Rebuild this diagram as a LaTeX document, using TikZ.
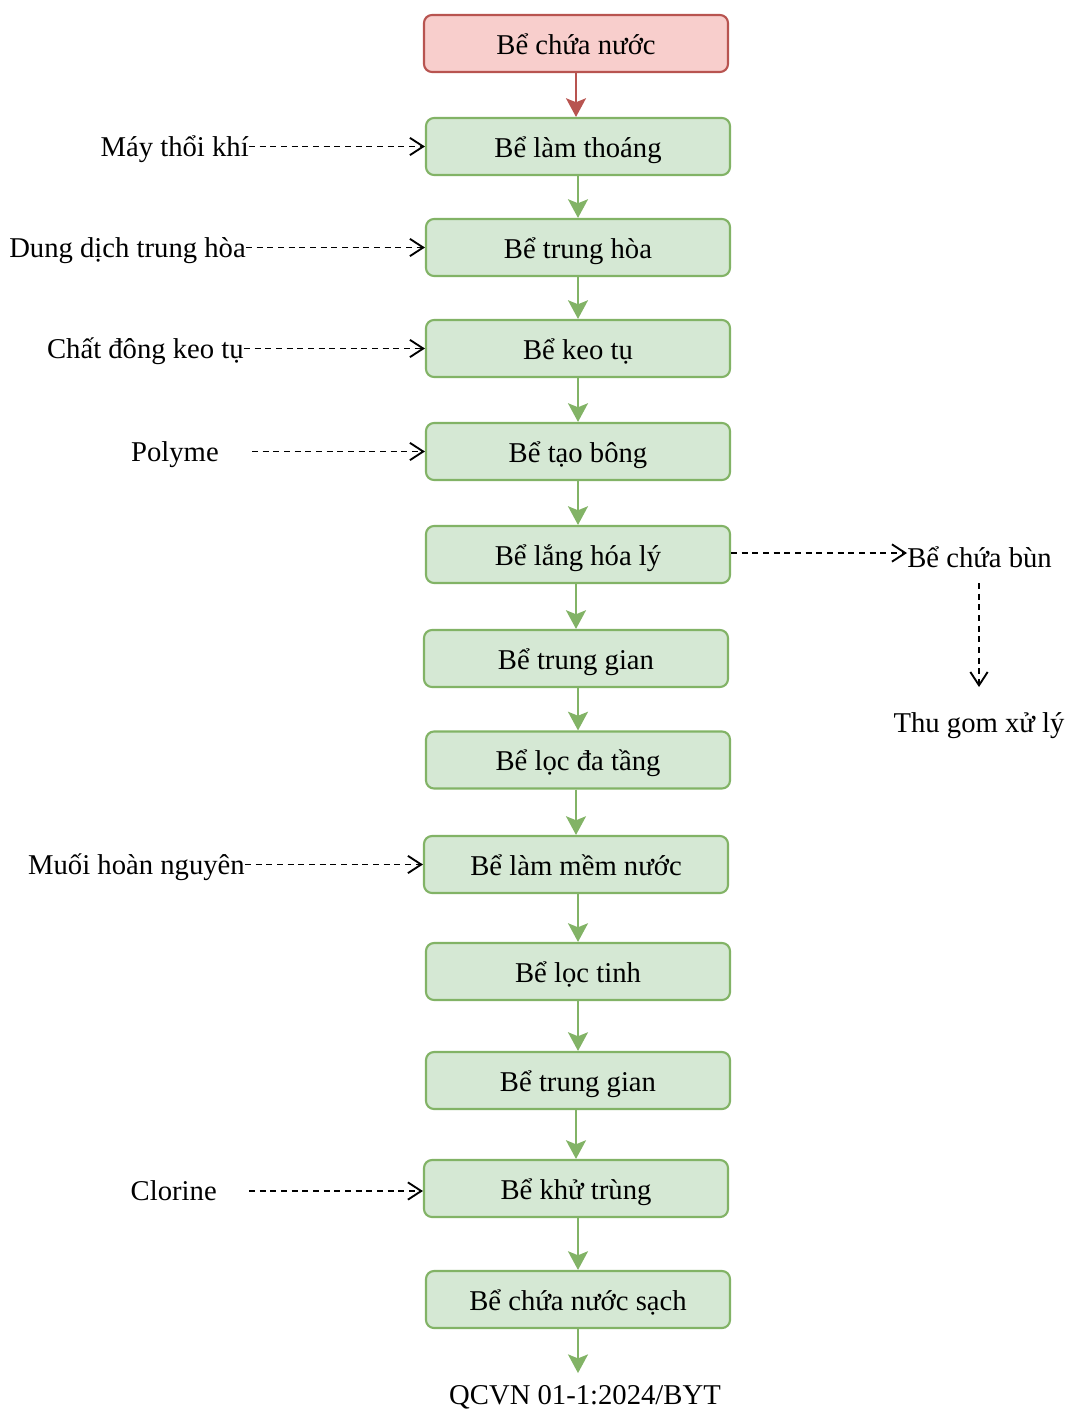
\documentclass[tikz,border=0pt]{standalone}
\usepackage{fontspec}
\setmainfont{Liberation Serif}
\usetikzlibrary{arrows.meta,calc}
\definecolor{gfill}{HTML}{D5E8D4}
\definecolor{gdraw}{HTML}{82B366}
\definecolor{rfill}{HTML}{F8CECC}
\definecolor{rdraw}{HTML}{B85450}
\begin{document}
\begin{tikzpicture}[x=0.75pt,y=-0.75pt,
  box/.style={draw=gdraw,fill=gfill,line width=1.6pt,rounded corners=6pt,
    minimum width=228pt,minimum height=42.75pt,inner sep=0pt,
    font=\fontsize{21.5}{24}\selectfont,text height=16pt,text depth=0pt},
  redbox/.style={box,draw=rdraw,fill=rfill},
  lab/.style={inner sep=0pt,font=\fontsize{21.5}{24}\selectfont,text height=14.5pt,text depth=0pt},
  plain/.style={inner sep=0pt,font=\fontsize{21.5}{24}\selectfont},
  garrow/.style={draw=gdraw,fill=gdraw,line width=1.5pt,-{Stealth[length=14pt,width=15pt,inset=3pt]}},
  rarrow/.style={garrow,draw=rdraw,fill=rdraw},
  dasharrow/.style={draw=black,line width=1.4pt,dash pattern=on 4.5pt off 3.5pt,
    -{Straight Barb[length=10pt,width=13pt]}}
]
\useasboundingbox (0,0) rectangle (1067,1416);

\node[redbox] (b1) at (576,43.5) {Bể chứa nước};
\node[box] (b2) at (578,146.5) {Bể làm thoáng};
\node[box] (b3) at (578,247.5) {Bể trung hòa};
\node[box] (b4) at (578,348.5) {Bể keo tụ};
\node[box] (b5) at (578,451.5) {Bể tạo bông};
\node[box] (b6) at (578,554.5) {Bể lắng hóa lý};
\node[box] (b7) at (576,658.5) {Bể trung gian};
\node[box] (b8) at (578,760) {Bể lọc đa tầng};
\node[box] (b9) at (576,864.5) {Bể làm mềm nước};
\node[box] (b10) at (578,971.5) {Bể lọc tinh};
\node[box] (b11) at (578,1080.5) {Bể trung gian};
\node[box] (b12) at (576,1188.5) {Bể khử trùng};
\node[box] (b13) at (578,1299.5) {Bể chứa nước sạch};
\node[plain,anchor=base] (qc) at (585,1404) {QCVN 01-1:2024/BYT};

% main flow
\draw[rarrow] (b1.south) -- (b1.south |- b2.north);
\foreach \a/\b in {b2/b3,b3/b4,b4/b5,b5/b6,b6/b7,b7/b8,b8/b9,b9/b10,b10/b11,b11/b12,b12/b13}{
  \draw[garrow] (\a.south -| \b.north) -- (\b.north);
}
\draw[garrow] (b13.south) -- ($(b13.south)+(0,44)$);

% left inputs
\node[lab,anchor=east] (may) at (249,146.5) {Máy thổi khí};
\node[lab,anchor=east] (dd) at (246,247.5) {Dung dịch trung hòa};
\node[lab,anchor=east] (chat) at (244,348.5) {Chất đông keo tụ};
\node[lab,anchor=east] (poly) at (219,451.5) {Polyme};
\node[lab,anchor=east] (muoi) at (245,864.5) {Muối hoàn nguyên};
\node[lab,anchor=east] (clo) at (217,1191) {Clorine};

\draw[dasharrow] (may.east) -- (may.east -| b2.west);
\draw[dasharrow] (dd.east) -- (dd.east -| b3.west);
\draw[dasharrow] (chat.east) -- (chat.east -| b4.west);
\draw[dasharrow,shorten <=24.75pt] (poly.east) -- (poly.east -| b5.west);
\draw[dasharrow] (muoi.east) -- (muoi.east -| b9.west);
\draw[dasharrow,shorten <=24pt] (clo.east) -- (clo.east -| b12.west);

% right: sludge
\node[plain,anchor=base west] (bun) at (907,567) {Bể chứa bùn};
\node[plain,anchor=base] (thu) at (979,732) {Thu gom xử lý};
\coordinate (bunbot) at (979,583);
\coordinate (thutop) at (979,687);
\draw[dasharrow] (b6.east |- 0,553) -- (bun.west |- 0,553);
\draw[dasharrow] (bunbot) -- (thutop);
\end{tikzpicture}
\end{document}
